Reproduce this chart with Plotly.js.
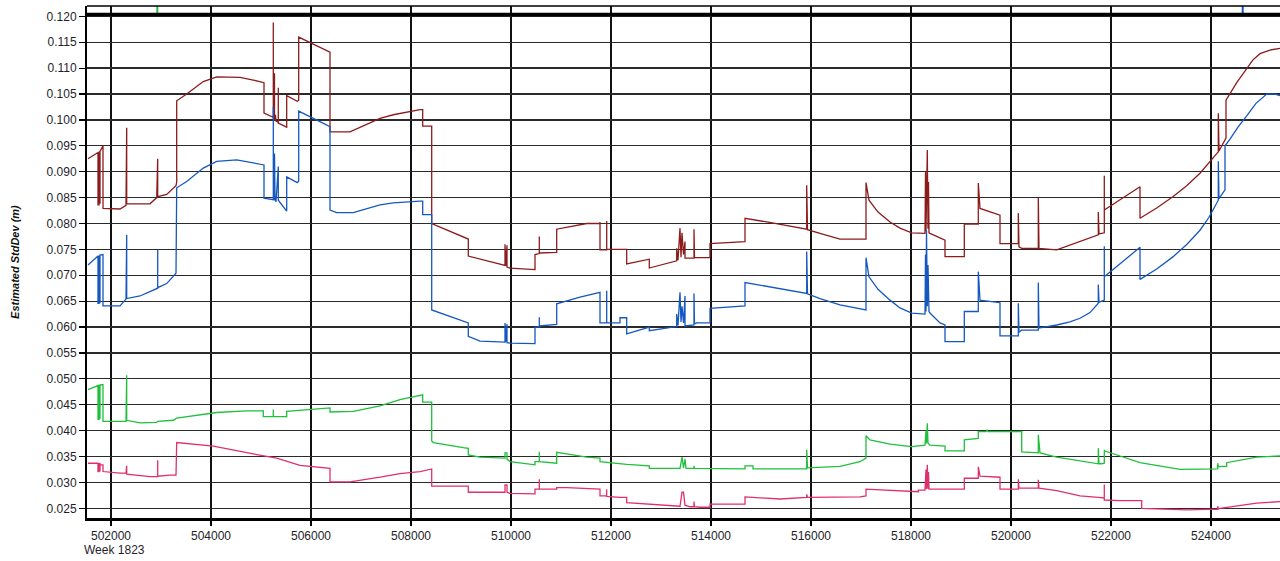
<!DOCTYPE html>
<html>
<head>
<meta charset="utf-8">
<script src="https://cdn.plot.ly/plotly-3.0.1.min.js"></script>
<style>html,body{margin:0;padding:0;background:#fff;}#chart{width:1280px;height:561px;}</style>
</head>
<body>
<div id="chart"></div>
<script>
// ---- data (x = time of week in seconds, y = estimated std dev in metres) ----
const xTicks = [502000,504000,506000,508000,510000,512000,514000,516000,518000,520000,522000,524000];
const yTicks = [0.025,0.030,0.035,0.040,0.045,0.050,0.055,0.060,0.065,0.070,0.075,0.080,0.085,0.090,0.095,0.100,0.105,0.110,0.115,0.120];
const weekLabel = "Week 1823";
const yTitle = "Estimated StdDev (m)";

const redSeries = [
[501540,0.0925],[501740,0.0937],[501740,0.0836],[501760,0.0836],[501760,0.0938],[501780,0.0939],[501780,0.0838],[501780,0.0939],[501840,0.0950],[501840,0.0829],[502180,0.0828],[502300,0.0835],[502314,0.0985],[502314,0.0838],[502780,0.0838],[502914,0.0850],[502934,0.0925],[502934,0.0852],[503114,0.0856],[503300,0.0873],[503314,0.0880],[503314,0.1037],[503514,0.1050],[503846,0.1074],[504114,0.1083],[504580,0.1082],[504846,0.1077],[505060,0.1072],[505060,0.1013],[505214,0.1007],[505246,0.1005],[505246,0.1188],[505246,0.1003],[505270,0.1002],[505270,0.1090],[505270,0.1000],[505290,0.1010],[505300,0.0998],[505346,0.0995],[505346,0.1062],[505346,0.0994],[505514,0.0986],[505514,0.1047],[505726,0.1036],[505754,0.1038],[505754,0.1160],[506380,0.1131],[506380,0.0977],[506780,0.0977],[507380,0.1003],[507646,0.1010],[508180,0.1020],[508234,0.1020],[508234,0.0988],[508414,0.0988],[508414,0.0800],[509146,0.0770],[509146,0.0737],[509880,0.0719],[509880,0.0760],[509900,0.0718],[509920,0.0758],[509920,0.0716],[509980,0.0714],[510480,0.0711],[510480,0.0740],[510566,0.0742],[510566,0.0775],[510566,0.0743],[510914,0.0744],[510914,0.0789],[511514,0.0800],[511780,0.0800],[511780,0.0803],[511780,0.0749],[511914,0.0749],[511914,0.0805],[511914,0.0750],[512314,0.0750],[512314,0.0722],[512766,0.0731],[512766,0.0714],[513314,0.0728],[513314,0.0752],[513340,0.0729],[513380,0.0791],[513400,0.0735],[513420,0.0782],[513450,0.0740],[513480,0.0765],[513480,0.0733],[513660,0.0733],[513660,0.0789],[513670,0.0734],[513980,0.0734],[513980,0.0761],[514680,0.0765],[514680,0.0810],[515114,0.0803],[515914,0.0789],[515914,0.0874],[515930,0.0788],[516180,0.0781],[516580,0.0770],[517100,0.0770],[517100,0.0879],[517160,0.0845],[517340,0.0822],[517580,0.0803],[517780,0.0791],[518014,0.0782],[518280,0.0781],[518290,0.0900],[518300,0.0785],[518326,0.0942],[518340,0.0790],[518350,0.0880],[518360,0.0782],[518380,0.0781],[518680,0.0768],[518680,0.0736],[519066,0.0736],[519066,0.0799],[519346,0.0799],[519346,0.0878],[519380,0.0829],[519780,0.0816],[519780,0.0761],[520146,0.0761],[520146,0.0820],[520160,0.0755],[520214,0.0752],[520546,0.0752],[520546,0.0849],[520560,0.0752],[520914,0.0749],[521180,0.0758],[521380,0.0765],[521580,0.0771],[521746,0.0778],[521746,0.0822],[521760,0.0780],[521814,0.0781],[521866,0.0782],[521866,0.0892],[521866,0.0826],[522580,0.0871],[522580,0.0810],[522914,0.0830],[523244,0.0852],[523514,0.0873],[523780,0.0897],[524114,0.0935],[524146,0.0938],[524146,0.1013],[524160,0.0940],[524300,0.0965],[524300,0.1038],[524514,0.1072],[524714,0.1100],[524840,0.1116],[524980,0.1128],[525180,0.1135],[525380,0.1138]
];

const blueSeries = [
[501540,0.0720],[501740,0.0737],[501740,0.0646],[501760,0.0646],[501760,0.0737],[501780,0.0738],[501780,0.0646],[501780,0.0739],[501840,0.0740],[501840,0.0641],[502180,0.0641],[502300,0.0654],[502314,0.0778],[502314,0.0655],[502580,0.0660],[502934,0.0675],[502934,0.0750],[502934,0.0676],[503114,0.0684],[503300,0.0704],[503314,0.0869],[503514,0.0881],[503846,0.0907],[504114,0.0920],[504514,0.0923],[504846,0.0917],[505060,0.0913],[505060,0.0849],[505180,0.0847],[505246,0.0846],[505246,0.1025],[505246,0.0850],[505270,0.0845],[505270,0.0935],[505280,0.0848],[505300,0.0842],[505346,0.0910],[505346,0.0845],[505514,0.0824],[505514,0.0890],[505726,0.0879],[505754,0.0882],[505754,0.1017],[506380,0.0987],[506380,0.0826],[506514,0.0821],[506846,0.0821],[507380,0.0836],[507646,0.0840],[508180,0.0843],[508234,0.0843],[508234,0.0817],[508414,0.0817],[508414,0.0633],[509146,0.0608],[509146,0.0582],[509380,0.0573],[509880,0.0571],[509880,0.0608],[509900,0.0571],[509920,0.0606],[509920,0.0570],[509980,0.0569],[510480,0.0568],[510480,0.0600],[510566,0.0600],[510566,0.0619],[510566,0.0602],[510914,0.0605],[510914,0.0645],[511380,0.0658],[511780,0.0667],[511780,0.0608],[511914,0.0608],[511914,0.0670],[511914,0.0608],[512180,0.0608],[512180,0.0618],[512314,0.0618],[512314,0.0587],[512766,0.0600],[512766,0.0593],[513314,0.0601],[513314,0.0625],[513340,0.0603],[513380,0.0667],[513400,0.0610],[513420,0.0640],[513450,0.0608],[513480,0.0660],[513480,0.0602],[513660,0.0604],[513660,0.0665],[513670,0.0606],[513714,0.0608],[513980,0.0608],[513980,0.0636],[514680,0.0641],[514680,0.0686],[515914,0.0665],[515914,0.0746],[515930,0.0664],[516180,0.0655],[516580,0.0643],[517100,0.0633],[517100,0.0734],[517160,0.0697],[517340,0.0673],[517580,0.0652],[517780,0.0637],[518014,0.0627],[518280,0.0625],[518290,0.0740],[518300,0.0630],[518310,0.0787],[518326,0.0640],[518340,0.0720],[518360,0.0630],[518380,0.0627],[518580,0.0608],[518680,0.0604],[518680,0.0572],[519066,0.0572],[519066,0.0630],[519346,0.0630],[519346,0.0707],[519380,0.0652],[519780,0.0647],[519780,0.0583],[520146,0.0583],[520146,0.0646],[520160,0.0590],[520214,0.0594],[520546,0.0594],[520546,0.0686],[520560,0.0598],[520914,0.0604],[521180,0.0610],[521380,0.0617],[521580,0.0628],[521746,0.0646],[521746,0.0682],[521760,0.0648],[521814,0.0650],[521866,0.0652],[521866,0.0756],[521866,0.0697],[522580,0.0754],[522580,0.0692],[522914,0.0712],[523244,0.0736],[523520,0.0760],[523780,0.0787],[523960,0.0812],[524114,0.0842],[524146,0.0845],[524146,0.0920],[524160,0.0848],[524280,0.0865],[524280,0.0950],[524380,0.0963],[524540,0.0986],[524714,0.1008],[524900,0.1032],[525114,0.1050],[525280,0.1050],[525380,0.1047]
];

const greenSeries = [
[501540,0.0479],[501740,0.0487],[501740,0.0422],[501760,0.0422],[501760,0.0487],[501780,0.0488],[501780,0.0423],[501780,0.0488],[501840,0.0489],[501840,0.0418],[502300,0.0418],[502314,0.0507],[502314,0.0420],[502580,0.0415],[502914,0.0416],[502934,0.0418],[503246,0.0420],[503314,0.0424],[503780,0.0430],[504114,0.0435],[504714,0.0438],[505046,0.0438],[505046,0.0427],[505246,0.0427],[505246,0.0441],[505246,0.0427],[505514,0.0427],[505514,0.0437],[506380,0.0444],[506380,0.0436],[506846,0.0437],[507380,0.0448],[507780,0.0460],[508180,0.0469],[508234,0.0469],[508234,0.0455],[508414,0.0455],[508414,0.0380],[508446,0.0377],[509046,0.0367],[509146,0.0366],[509146,0.0353],[509380,0.0349],[509880,0.0347],[509880,0.0357],[509920,0.0357],[509920,0.0345],[509980,0.0340],[510480,0.0334],[510480,0.0340],[510566,0.0340],[510566,0.0359],[510566,0.0340],[510914,0.0337],[510914,0.0358],[511114,0.0355],[511514,0.0349],[511780,0.0347],[511780,0.0340],[512314,0.0335],[512766,0.0332],[512766,0.0327],[513380,0.0327],[513420,0.0349],[513450,0.0328],[513480,0.0345],[513500,0.0327],[513660,0.0327],[513660,0.0332],[513670,0.0327],[514680,0.0326],[514680,0.0332],[514840,0.0332],[514840,0.0326],[515914,0.0326],[515914,0.0363],[515930,0.0328],[516580,0.0331],[516980,0.0340],[517100,0.0347],[517100,0.0390],[517180,0.0382],[517580,0.0374],[518014,0.0369],[518280,0.0372],[518300,0.0400],[518310,0.0375],[518326,0.0414],[518340,0.0376],[518380,0.0372],[518680,0.0370],[518680,0.0361],[519066,0.0361],[519066,0.0382],[519346,0.0385],[519346,0.0398],[519500,0.0398],[519520,0.0401],[519540,0.0398],[520214,0.0398],[520214,0.0359],[520546,0.0357],[520546,0.0392],[520580,0.0357],[520914,0.0349],[521380,0.0342],[521746,0.0336],[521746,0.0366],[521760,0.0336],[521814,0.0336],[521866,0.0337],[521866,0.0363],[521866,0.0361],[522180,0.0351],[522580,0.0338],[523380,0.0325],[523980,0.0325],[524134,0.0326],[524134,0.0337],[524150,0.0330],[524214,0.0331],[524314,0.0331],[524314,0.0338],[524914,0.0349],[525380,0.0351]
];

const pinkSeries = [
[501540,0.0337],[501740,0.0337],[501740,0.0321],[501760,0.0321],[501760,0.0336],[501780,0.0336],[501780,0.0321],[501780,0.0334],[501840,0.0334],[501840,0.0321],[502180,0.0318],[502300,0.0318],[502314,0.0332],[502314,0.0316],[502780,0.0311],[502934,0.0311],[502934,0.0343],[502934,0.0312],[503180,0.0314],[503300,0.0314],[503314,0.0377],[503580,0.0374],[503780,0.0372],[504046,0.0370],[504846,0.0355],[505314,0.0347],[505780,0.0333],[506380,0.0327],[506380,0.0301],[506780,0.0301],[507380,0.0310],[507780,0.0317],[508180,0.0321],[508414,0.0326],[508414,0.0293],[509146,0.0293],[509146,0.0281],[509880,0.0281],[509880,0.0295],[509920,0.0295],[509920,0.0281],[509980,0.0279],[510480,0.0278],[510480,0.0287],[510566,0.0287],[510566,0.0306],[510566,0.0287],[510914,0.0287],[510914,0.0290],[511114,0.0290],[511646,0.0287],[511780,0.0287],[511780,0.0274],[511914,0.0274],[511914,0.0287],[511914,0.0273],[512180,0.0271],[512314,0.0271],[512314,0.0261],[512766,0.0258],[513314,0.0254],[513380,0.0254],[513420,0.0281],[513450,0.0281],[513480,0.0256],[513580,0.0253],[513660,0.0253],[513660,0.0263],[513670,0.0253],[513780,0.0252],[513980,0.0252],[513980,0.0258],[514680,0.0258],[514680,0.0272],[515380,0.0268],[515914,0.0271],[515914,0.0277],[515930,0.0271],[516980,0.0272],[517100,0.0274],[517100,0.0287],[518146,0.0282],[518146,0.0285],[518280,0.0285],[518300,0.0325],[518310,0.0287],[518326,0.0334],[518340,0.0288],[518350,0.0320],[518360,0.0287],[518380,0.0287],[519066,0.0287],[519066,0.0308],[519346,0.0308],[519346,0.0330],[519380,0.0312],[519780,0.0310],[519780,0.0287],[520146,0.0287],[520146,0.0306],[520160,0.0289],[520214,0.0289],[520546,0.0289],[520546,0.0305],[520560,0.0289],[520914,0.0284],[521380,0.0274],[521746,0.0271],[521866,0.0270],[521866,0.0296],[521866,0.0266],[522180,0.0265],[522614,0.0265],[522614,0.0250],[523244,0.0248],[523514,0.0247],[523914,0.0248],[524134,0.0248],[524134,0.0254],[524150,0.0249],[524180,0.0250],[524446,0.0254],[524914,0.0260],[525380,0.0263]
];

// event markers in the thin strip above the main plot
const stripEventX = [502926, 524634];
const stripEventColor = ['#1ec03c', '#1558c0'];
const stripLow = 0.12045, stripHigh = 0.12200;

// ---- styling ----
const seriesDefs = [
  {pts: redSeries,   color: '#8c1c1c'},
  {pts: blueSeries,  color: '#1558c0'},
  {pts: greenSeries, color: '#1ec03c'},
  {pts: pinkSeries,  color: '#e0306a'}
];

const traces = seriesDefs.map(s => ({
  type: 'scatter', mode: 'lines',
  x: s.pts.map(p => p[0]), y: s.pts.map(p => p[1]),
  line: {color: s.color, width: 1.3},
  hoverinfo: 'skip'
}));
stripEventX.forEach((ex, i) => {
  traces.push({type:'scatter', mode:'lines', x:[ex, ex], y:[stripLow, stripHigh],
    line:{color: stripEventColor[i], width: 2}, hoverinfo:'skip'});
});

const fontFam = '"Liberation Sans", Arial, sans-serif';
const layout = {
  width: 1280, height: 561,
  margin: {l: 87, r: 0, t: 6, b: 43, pad: 0},
  paper_bgcolor: '#ffffff', plot_bgcolor: '#ffffff',
  showlegend: false,
  font: {family: fontFam, size: 12, color: '#1e1e2a'},
  xaxis: {
    range: [501520, 525380], tickmode: 'array', tickvals: xTicks,
    ticktext: xTicks.map(String),
    showgrid: true, gridcolor: '#111111', gridwidth: 1.1,
    showline: true, linecolor: '#000', linewidth: 3,
    ticks: 'outside', ticklen: 5, tickcolor: '#000', tickwidth: 1.2,
    zeroline: false, fixedrange: true,
    tickfont: {family: fontFam, size: 12, color: '#1e1e2a'}
  },
  yaxis: {
    range: [0.023127, 0.12200], tickmode: 'array', tickvals: yTicks,
    ticktext: yTicks.map(v => v.toFixed(3)),
    showgrid: true, gridcolor: '#2a2a2a', gridwidth: 1.3,
    showline: true, linecolor: '#000', linewidth: 2,
    ticks: 'outside', ticklen: 6, tickcolor: '#000', tickwidth: 1.2,
    zeroline: false, fixedrange: true,
    tickfont: {family: fontFam, size: 12, color: '#1e1e2a'}
  },
  shapes: [
    {type:'line', xref:'paper', yref:'paper', x0:0, x1:1, y0:1, y1:1, line:{color:'#000', width:1.5}},
    {type:'line', xref:'paper', yref:'y', x0:0, x1:1, y0:0.12036, y1:0.12036, line:{color:'#000', width:3.5}}
  ],
  annotations: [
    {text: weekLabel, xref:'paper', yref:'paper', x:-0.0045, y:-0.0625, xanchor:'left', yanchor:'middle',
     showarrow:false, font:{family: fontFam, size: 12, color:'#1e1e2a'}},
    {text: '<b><i>' + yTitle + '</i></b>', xref:'paper', yref:'paper', x:-0.0604, y:0.5, xanchor:'center', yanchor:'middle',
     textangle:-90, showarrow:false, font:{family: fontFam, size: 11, color:'#111'}}
  ]
};

Plotly.newPlot('chart', traces, layout, {staticPlot: true, displayModeBar: false});
</script>
</body>
</html>
